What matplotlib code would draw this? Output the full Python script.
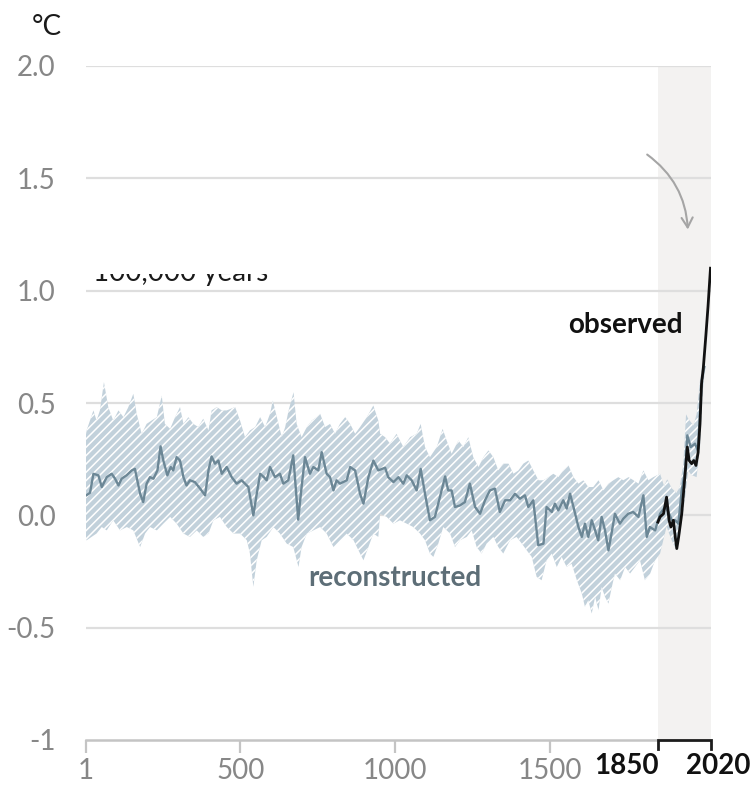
import numpy as np
import matplotlib
matplotlib.use("Agg")
import matplotlib.pyplot as plt
from matplotlib.patches import FancyArrowPatch, Rectangle
from matplotlib.transforms import ScaledTranslation

plt.rcParams['font.family'] = ['Lato', 'DejaVu Sans']
plt.rcParams['hatch.linewidth'] = 1.1

# ---- reconstructed global temperature (2000-year proxy record), anomaly in °C
recon_years = [3, 14, 25, 41, 52, 68, 84, 95, 106, 116, 132, 149, 159, 176, 186, 197,
               208, 219, 232, 242, 251, 264, 275, 283, 294, 305, 316, 326, 337, 353,
               370, 386, 397, 407, 418, 429, 440, 456, 472, 488, 504, 526, 542, 553,
               564, 576, 585, 596, 612, 628, 639, 655, 671, 687, 698, 709, 725, 736,
               752, 763, 779, 790, 801, 811, 822, 844, 855, 871, 887, 898, 914, 930,
               946, 968, 978, 995, 1011, 1027, 1038, 1054, 1070, 1083, 1097, 1113,
               1129, 1145, 1162, 1172, 1183, 1194, 1210, 1226, 1242, 1259, 1275, 1291,
               1307, 1323, 1339, 1356, 1372, 1388, 1404, 1420, 1431, 1447, 1463, 1480,
               1490, 1507, 1517, 1528, 1544, 1555, 1566, 1577, 1593, 1604, 1614, 1625,
               1636, 1647, 1657, 1668, 1679, 1690, 1700, 1711, 1727, 1738, 1754, 1770,
               1787, 1803, 1814, 1824, 1841, 1857, 1873, 1884, 1895, 1906, 1916, 1927,
               1938, 1945, 1956, 1970, 1979, 1986, 1992, 2000]
recon_mean = [0.09, 0.10, 0.185, 0.178, 0.126, 0.17, 0.185, 0.163, 0.133, 0.163, 0.178,
              0.20, 0.207, 0.096, 0.059, 0.141, 0.17, 0.163, 0.20, 0.307, 0.244, 0.178,
              0.215, 0.20, 0.259, 0.244, 0.17, 0.133, 0.156, 0.148, 0.119, 0.089, 0.20,
              0.262, 0.23, 0.244, 0.185, 0.215, 0.17, 0.141, 0.156, 0.126, 0.0, 0.096,
              0.185, 0.17, 0.156, 0.215, 0.17, 0.185, 0.141, 0.156, 0.267, -0.019, 0.126,
              0.259, 0.185, 0.215, 0.20, 0.281, 0.185, 0.17, 0.111, 0.156, 0.141, 0.156,
              0.215, 0.20, 0.096, 0.052, 0.17, 0.244, 0.20, 0.212, 0.17, 0.148, 0.17,
              0.141, 0.178, 0.156, 0.111, 0.207, 0.096, -0.022, -0.007, 0.081, 0.173,
              0.111, 0.111, 0.037, 0.044, 0.059, 0.141, 0.037, 0.007, 0.067, 0.111,
              0.119, 0.015, 0.067, 0.067, 0.096, 0.074, 0.089, 0.037, 0.067, -0.133,
              -0.126, 0.037, 0.015, 0.052, 0.022, 0.067, 0.03, 0.096, 0.037, -0.052,
              -0.096, -0.037, -0.096, -0.022, -0.067, -0.111, -0.007, -0.067, -0.156,
              -0.081, 0.007, -0.037, -0.015, 0.007, 0.015, -0.007, 0.089, -0.096, -0.052,
              -0.067, 0.007, 0.037, 0.015, -0.022, -0.022, -0.037, 0.111, 0.20, 0.356,
              0.304, 0.319, 0.289, 0.452, 0.60, 0.66]

# ---- uncertainty range of the reconstruction
upper_years = [1, 3, 25, 35, 46, 59, 73, 89, 106, 122, 138, 154, 165, 181, 197, 213, 230,
               246, 256, 273, 289, 305, 316, 332, 348, 364, 380, 397, 407, 424, 440, 456,
               483, 499, 515, 531, 548, 564, 580, 596, 605, 618, 634, 645, 656, 672, 682,
               698, 715, 731, 747, 758, 774, 790, 806, 822, 839, 855, 871, 887, 909, 930,
               946, 952, 968, 984, 1005, 1027, 1049, 1070, 1083, 1097, 1113, 1135, 1154,
               1167, 1183, 1205, 1221, 1237, 1253, 1270, 1286, 1302, 1318, 1334, 1350,
               1367, 1383, 1399, 1415, 1431, 1447, 1464, 1480, 1496, 1512, 1528, 1544,
               1561, 1577, 1593, 1609, 1625, 1641, 1658, 1674, 1690, 1706, 1722, 1738,
               1755, 1771, 1787, 1803, 1819, 1835, 1857, 1870, 1880, 1895, 1910, 1921,
               1932, 1941, 1948, 1965, 1975, 1986, 1995, 2000]
upper_vals = [0.36, 0.378, 0.467, 0.422, 0.467, 0.593, 0.482, 0.422, 0.467, 0.437, 0.482,
              0.541, 0.452, 0.363, 0.407, 0.422, 0.437, 0.533, 0.407, 0.385, 0.437, 0.482,
              0.407, 0.437, 0.407, 0.393, 0.43, 0.378, 0.467, 0.482, 0.467, 0.467, 0.482,
              0.422, 0.348, 0.378, 0.393, 0.437, 0.393, 0.452, 0.511, 0.437, 0.348, 0.393,
              0.467, 0.548, 0.407, 0.348, 0.393, 0.422, 0.437, 0.452, 0.393, 0.407, 0.363,
              0.407, 0.437, 0.407, 0.363, 0.393, 0.437, 0.489, 0.422, 0.363, 0.348, 0.319,
              0.363, 0.304, 0.348, 0.363, 0.407, 0.304, 0.259, 0.304, 0.385, 0.333, 0.274,
              0.333, 0.304, 0.348, 0.259, 0.215, 0.259, 0.289, 0.259, 0.20, 0.23, 0.23,
              0.185, 0.20, 0.23, 0.244, 0.20, 0.156, 0.156, 0.17, 0.185, 0.17, 0.20,
              0.222, 0.17, 0.141, 0.156, 0.126, 0.126, 0.156, 0.111, 0.141, 0.156, 0.17,
              0.156, 0.17, 0.156, 0.141, 0.20, 0.156, 0.17, 0.185, 0.13, 0.16, 0.12, 0.10,
              0.13, 0.23, 0.45, 0.43, 0.40, 0.45, 0.60, 0.67, 0.68]
lower_years = [1, 3, 19, 35, 52, 68, 89, 111, 133, 154, 176, 192, 208, 230, 251, 273, 294,
               316, 337, 359, 380, 397, 413, 434, 456, 478, 499, 521, 531, 542, 553, 569,
               585, 607, 628, 650, 671, 688, 698, 715, 736, 758, 779, 801, 822, 844, 866,
               882, 898, 914, 930, 946, 952, 973, 995, 1016, 1038, 1059, 1081, 1097, 1113,
               1124, 1140, 1156, 1178, 1194, 1210, 1232, 1248, 1264, 1280, 1296, 1318,
               1334, 1350, 1372, 1393, 1410, 1426, 1442, 1458, 1474, 1490, 1507, 1523,
               1539, 1555, 1571, 1588, 1604, 1614, 1625, 1636, 1647, 1658, 1668, 1679,
               1690, 1701, 1711, 1728, 1744, 1760, 1776, 1792, 1808, 1825, 1841, 1857,
               1878, 1894, 1908, 1921, 1938, 1948, 1958, 1975, 1986, 1995, 2000]
lower_vals = [-0.11, -0.111, -0.096, -0.081, -0.052, -0.067, -0.022, -0.067, -0.052,
              -0.067, -0.141, -0.081, -0.052, -0.067, -0.037, -0.007, -0.037, -0.081,
              -0.096, -0.067, -0.096, -0.081, -0.022, -0.007, -0.052, -0.081, -0.081,
              -0.111, -0.17, -0.318, -0.20, -0.111, -0.096, -0.052, -0.081, -0.126,
              -0.141, -0.23, -0.141, -0.081, -0.067, -0.052, -0.081, -0.141, -0.111,
              -0.081, -0.111, -0.156, -0.20, -0.141, -0.081, -0.096, 0.007, -0.007,
              -0.037, -0.022, -0.037, -0.052, -0.081, -0.111, -0.17, -0.185, -0.126,
              -0.052, -0.081, -0.141, -0.111, -0.096, -0.067, -0.141, -0.17, -0.126,
              -0.096, -0.141, -0.17, -0.111, -0.096, -0.126, -0.156, -0.185, -0.274,
              -0.289, -0.20, -0.17, -0.23, -0.185, -0.23, -0.215, -0.289, -0.348, -0.407,
              -0.378, -0.437, -0.363, -0.422, -0.319, -0.363, -0.393, -0.319, -0.259,
              -0.289, -0.23, -0.259, -0.23, -0.20, -0.289, -0.259, -0.20, -0.17, -0.05,
              -0.11, -0.15, -0.09, 0.08, 0.20, 0.18, 0.17, 0.30, 0.55, 0.62]

# ---- observed (instrumental) record
obs_years = [1850, 1857, 1868, 1878, 1886, 1892, 1900, 1906, 1911, 1917, 1927, 1938,
             1945, 1951, 1959, 1966, 1973, 1980, 1986, 1991, 1997, 2005, 2012, 2020]
obs_vals = [-0.03, -0.007, 0.007, 0.081, -0.022, -0.052, -0.022, -0.096, -0.148, -0.096,
            0.007, 0.185, 0.304, 0.244, 0.23, 0.244, 0.222, 0.281, 0.407, 0.585, 0.66,
            0.80, 0.93, 1.10]

x_ticks = [1, 500, 1000, 1500]
era_ticks = [1850, 2020]
y_ticks = [-1, -0.5, 0.0, 0.5, 1.0, 1.5, 2.0]
y_labels = ['-1', '-0.5', '0.0', '0.5', '1.0', '1.5', '2.0']

GRAY_TXT = '#878787'
GRID = '#dedede'
DARK = '#1c1c1c'

fig = plt.figure(figsize=(7.56, 7.87), dpi=100)
ax = fig.add_axes([86 / 756, 1 - 740 / 787, (710.5 - 86) / 756, (740 - 66) / 787])
ax.set_xlim(1, 2020)
ax.set_ylim(-1, 2)
for s in ax.spines.values():
    s.set_visible(False)

# industrial era shading
ax.axvspan(era_ticks[0], era_ticks[1], color='#f3f2f1', zorder=0, lw=0)

for yv in y_ticks[1:]:
    ax.axhline(yv, color=GRID, lw=1.6, zorder=1)

# uncertainty band
band_x = np.concatenate([upper_years, lower_years[::-1]])
band_y = np.concatenate([upper_vals, lower_vals[::-1]])
ax.fill(band_x, band_y, facecolor='#c2d1db', edgecolor='white', hatch='////',
        lw=0, zorder=2)

ax.plot(recon_years, recon_mean, color='#6c8796', lw=1.7, zorder=3)
ax.plot(obs_years, obs_vals, color='#111111', lw=2.0, zorder=4)

# axis baseline, with a dark bracket marking the industrial era
ax.plot([1, era_ticks[0]], [-1, -1], color='#c4c4c4', lw=1.8, clip_on=False, zorder=5)
bracket_tr = ax.get_xaxis_transform()
ax.plot([era_ticks[0], era_ticks[0], era_ticks[1], era_ticks[1]],
        [-0.014, 0, 0, -0.014], transform=bracket_tr, color=DARK, lw=2.0,
        clip_on=False, zorder=6, solid_joinstyle='miter')

ax.set_xticks(x_ticks)
ax.set_xticklabels([str(v) for v in x_ticks])
ax.tick_params(axis='x', direction='out', length=9, width=1.6, color='#c4c4c4',
               labelsize=20, labelcolor=GRAY_TXT, pad=4)

# era labels sit beside their bracket ends so they do not collide
off = lambda dx, dy: ScaledTranslation(dx / 100, dy / 100, fig.dpi_scale_trans)
ax.text(era_ticks[0], 0, str(era_ticks[0]), transform=bracket_tr + off(1, -13),
        ha='right', va='top', fontsize=20, fontweight='bold', color='#111111')
ax.text(era_ticks[1], 0, str(era_ticks[1]), transform=bracket_tr + off(8, -13),
        ha='center', va='top', fontsize=20, fontweight='bold', color='#111111')

ax.set_yticks(y_ticks)
ax.set_yticklabels(y_labels)
ax.tick_params(axis='y', length=0, pad=22, labelsize=20, labelcolor=GRAY_TXT)

fig.text(62 / 756, 1 - 27 / 787, '°C', ha='right', va='center', fontsize=20,
         color='#1a1a1a')

ax.text(1559, 0.845, 'observed', ha='left', va='center', fontsize=20,
        fontweight='bold', color='#111111', zorder=7)
ax.text(719, -0.28, 'reconstructed', ha='left', va='center', fontsize=20,
        fontweight='bold', color='#5d6e77', zorder=7)

# caption sliding out from under a white mask: only its lower edge shows
fig.text(93 / 756, 1 - 281 / 787, '100,000 years', ha='left', va='baseline',
         fontsize=20, color='#1a1a1a', zorder=3)
fig.add_artist(Rectangle((84 / 756, 1 - 274 / 787), 210 / 756, 24 / 787,
                         transform=fig.transFigure, facecolor='white',
                         edgecolor='none', zorder=4))

arrow = FancyArrowPatch((1808, 1.613), (1947, 1.26),
                        connectionstyle='arc3,rad=-0.25', arrowstyle='->,head_length=7,head_width=4',
                        color='#a5a5a5', lw=1.5, zorder=7)
ax.add_patch(arrow)

fig.savefig('out.png', dpi=100, facecolor='white')
